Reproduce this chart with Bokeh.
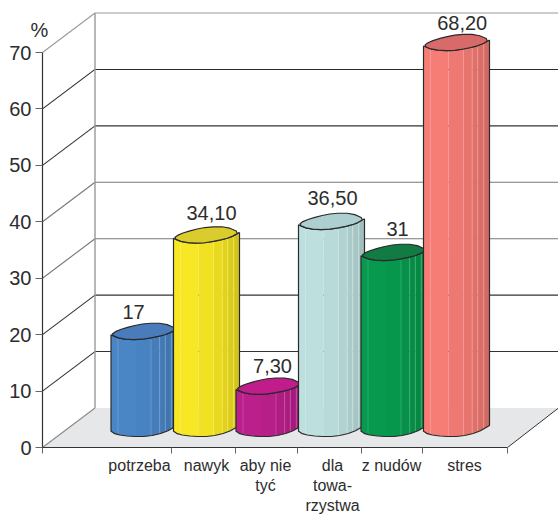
from bokeh.embed import file_html
from bokeh.models import FixedTicker, LinearAxis, Range1d
from bokeh.plotting import figure
from bokeh.resources import INLINE
from bokeh.core.properties import value
import numpy as np

# Survey data
categories = ["potrzeba", "nawyk", "aby nie\ntyć", "dla\ntowa-\nrzystwa", "z nudów", "stres"]
values = [17, 34.10, 7.30, 36.50, 31, 68.20]
value_labels = ["17", "34,10", "7,30", "36,50", "31", "68,20"]
y_ticks = [0, 10, 20, 30, 40, 50, 60, 70]

body_colors = ["#4a86c6", "#f8e724", "#bb1f8c", "#bde0de", "#079a4e", "#f57d76"]
cap_colors = ["#4a7cbc", "#d9cc2c", "#c01c8b", "#aecfcf", "#117b43", "#d86a6a"]

FONT = "Liberation Sans"
INK = "#2d2d2d"
W, H = 558, 516
LEFT, BOTTOM = 42, 69
UNIT = 395 / 70            # pixels per percentage point

# Layout of the pseudo-3D box, in horizontal chart units and percentage points
DEPTH_X = 52.5
DEPTH_Y = 39.5 / UNIT
AXIS_END = 507
BAR_START, BAR_STEP = 143.5, 62.5
BASE_LIFT = 20 / UNIT

# Faceted column outline, relative to a column's centre
cap_x = np.array([-33, -27, -13, 2, 20, 33, 24, 11, -6, -23], dtype=float)
cap_y = np.array([-3.3, 1, 5.3, 8.3, 8.3, 2.7, -2.3, -5.7, -8.3, -7.3])
front_x = np.array([-33, -23, -6, 11, 24, 33], dtype=float)
front_y = np.array([-3.3, -7.3, -8.3, -5.7, -2.3, 2.7])
foot_x = np.array([-33, -28, -13, 4, 21, 33], dtype=float)
foot_y = np.array([-3.7, -7, -9, -9, -5, 2])
strip_edges = [-33, -26, -8, 7, 15.7, 21.3, 27.3, 33]
strip_shade = [1.0, 1.0, 0.975, 0.94, 0.91, 0.88, 0.85]


def shade(color, f):
    r, g, b = (int(color[i:i + 2], 16) for i in (1, 3, 5))
    return "#%02x%02x%02x" % (int(r * f), int(g * f), int(b * f))


def lighten(color, f):
    r, g, b = (int(color[i:i + 2], 16) for i in (1, 3, 5))
    return "#%02x%02x%02x" % (int(r + (255 - r) * f), int(g + (255 - g) * f), int(b + (255 - b) * f))


def round_corners(x, y, closed):
    """One pass of corner cutting, to soften a polygonal outline."""
    if closed:
        x, y = np.r_[x, x[0]], np.r_[y, y[0]]
    qx = 0.75 * x[:-1] + 0.25 * x[1:]
    qy = 0.75 * y[:-1] + 0.25 * y[1:]
    rx = 0.25 * x[:-1] + 0.75 * x[1:]
    ry = 0.25 * y[:-1] + 0.75 * y[1:]
    ox = np.column_stack([qx, rx]).ravel()
    oy = np.column_stack([qy, ry]).ravel()
    if not closed:
        ox, oy = np.r_[x[0], ox, x[-1]], np.r_[y[0], oy, y[-1]]
    return ox, oy


soft_cap_x, soft_cap_y = round_corners(cap_x, cap_y, True)
soft_front_x, soft_front_y = round_corners(front_x, front_y, False)
soft_foot_x, soft_foot_y = round_corners(foot_x, foot_y, False)

# The frame fills the page; both axes are pinned inside it
p = figure(
    width=W, height=H, output_backend="svg", toolbar_location=None,
    x_range=Range1d(0, W), y_range=Range1d(-BOTTOM / UNIT, (H - BOTTOM) / UNIT),
    x_axis_type=None, y_axis_type=None,
    min_border_left=0, min_border_right=0, min_border_top=0, min_border_bottom=0,
    frame_width=W, frame_height=H, outline_line_color=None,
    background_fill_color="white", border_fill_color="white",
)
p.grid.visible = False

# Floor
p.patch([LEFT, LEFT + DEPTH_X, W, AXIS_END], [0, DEPTH_Y, DEPTH_Y, 0], fill_color="#e6e7e8", line_color=None)
p.line([AXIS_END, W], [0, DEPTH_Y], line_color="#333333", line_width=1)

# Walls and gridlines
grid_colors = {70: "#999999", 60: "#2a2a2a", 50: "#333333", 40: "#777777",
               30: "#777777", 20: "#333333", 10: "#333333", 0: "#888888"}
for t in y_ticks:
    c = grid_colors[t]
    p.line([LEFT, LEFT + DEPTH_X], [t, t + DEPTH_Y], line_color=c, line_width=1.1)
    if t:
        p.line([LEFT + DEPTH_X, W], [t + DEPTH_Y, t + DEPTH_Y], line_color=c, line_width=1.1)
p.line([LEFT + DEPTH_X] * 2, [DEPTH_Y, 70 + DEPTH_Y], line_color="#999999", line_width=1.4)

# Columns, painted left to right so each overlaps its neighbour
for i, v in enumerate(values):
    cx = BAR_START + i * BAR_STEP
    top = BASE_LIFT + v
    base = BASE_LIFT
    for a, b, s in zip(strip_edges[:-1], strip_edges[1:], strip_shade):
        xs = np.linspace(a, b, 8)
        upper = top + np.interp(xs, soft_front_x, soft_front_y) / UNIT
        lower = base + np.interp(xs, soft_foot_x, soft_foot_y) / UNIT
        p.patch(np.r_[xs, xs[::-1]] + cx, np.r_[upper, lower[::-1]],
                fill_color=shade(body_colors[i], s), line_color=None)
        if a != strip_edges[0] and a != -8:
            p.line([cx + a, cx + a], [upper[0], lower[0]],
                   line_color=lighten(body_colors[i], 0.2), line_width=0.8)
    outline_x = np.r_[soft_front_x[::-1], soft_foot_x] + cx
    outline_y = np.r_[top + soft_front_y[::-1] / UNIT, base + soft_foot_y / UNIT]
    p.line(np.r_[outline_x, outline_x[0]], np.r_[outline_y, outline_y[0]],
           line_color="#2a2a2a", line_width=1.2)
    p.patch(soft_cap_x + cx, top + soft_cap_y / UNIT, fill_color=cap_colors[i],
            line_color="#2a2a2a", line_width=1.2)

# Value captions above the columns
label_dx = [-10.5, 5, 3.5, 1, 3.5, 5.7]
label_dy = [-20, -22, -20, -24, -24, -20]
p.text([BAR_START + i * BAR_STEP + label_dx[i] for i in range(6)],
       [BASE_LIFT + v for v in values], text=value_labels,
       text_font=value(FONT), text_font_size="20px", text_color=INK,
       text_align="center", text_baseline="middle", y_offset=label_dy)

# Value axis, pinned at the front-left corner of the box
y_axis = LinearAxis(
    ticker=FixedTicker(ticks=y_ticks), bounds=(0, 70), fixed_location=LEFT,
    axis_line_color="#333333", axis_line_width=1.2,
    major_tick_line_color="#666666", major_tick_in=0, major_tick_out=7,
    major_label_text_font=FONT, major_label_text_font_size="20px",
    major_label_text_color=INK, major_label_standoff=4,
)
p.add_layout(y_axis, "left")

# Category axis along the front edge: names sit on major ticks, the visible marks are minor ticks
name_pos = [139, 206, 265, 332, 391, 464]
x_axis = LinearAxis(
    ticker=FixedTicker(ticks=name_pos, minor_ticks=[42, 171, 235, 297, 361, 422, 507]),
    bounds=(LEFT, AXIS_END), fixed_location=0,
    axis_line_color="#333333", axis_line_width=1.2,
    major_tick_line_color=None, major_tick_in=0, major_tick_out=0,
    minor_tick_line_color="#666666", minor_tick_in=0, minor_tick_out=6,
    major_label_overrides=dict(zip(name_pos, categories)),
    major_label_text_font=FONT, major_label_text_font_size="16px",
    major_label_text_color=INK, major_label_standoff=3,
)
p.add_layout(x_axis, "below")

# Unit marker above the value axis
p.text([39], [(H - BOTTOM - 29) / UNIT], text=["%"], text_font=value(FONT),
       text_font_size="20px", text_color=INK, text_align="center", text_baseline="middle")

open("out.html", "w").write(file_html(p, INLINE))
